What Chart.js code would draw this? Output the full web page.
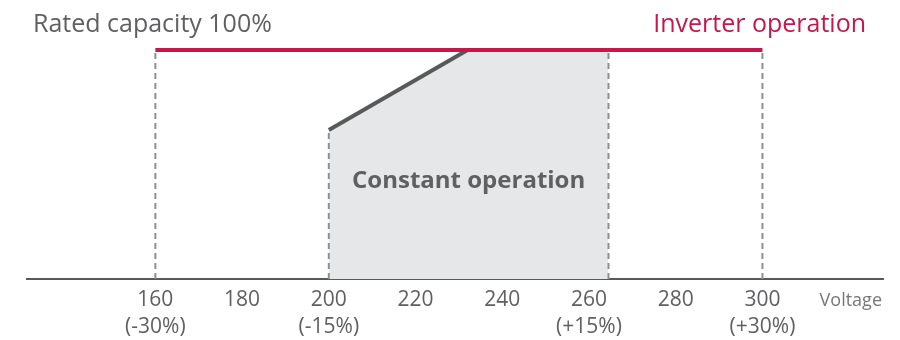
<!DOCTYPE html>
<html>
<head>
<meta charset="utf-8">
<script src="https://cdn.jsdelivr.net/npm/chart.js@4"></script>
<style>
  html, body { margin: 0; padding: 0; background: #fff; }
  #wrap { width: 900px; height: 340px; position: relative; }
</style>
</head>
<body>
<div id="wrap"><canvas id="chart"></canvas></div>
<script>
// Supply voltage ticks and their deviation from the 230 V rating
const voltageTicks = [160, 180, 200, 220, 240, 260, 280, 300];
const deviationLabels = ['(-30%)', '', '(-15%)', '', '', '(+15%)', '', '(+30%)'];

// Inverter model: full rated capacity over the whole 160-300 V range
const inverterVoltage = [160, 300];
const inverterCapacity = [100, 100];

// Constant-speed model: works only between -15% and +15%, reduced at low voltage
const constantVoltage = [200, 232, 264.5];
const constantCapacity = [65, 100, 100];

// Dashed boundary markers (voltage, capacity reached)
const boundaryVoltage = [160, 200, 264.5, 300];
const boundaryCapacity = [100, 65, 100, 100];

const RED = '#c8164b';
const DARK = '#58595b';
const GREY_TEXT = '#5f6062';

const pts = (xs, ys) => xs.map((x, i) => ({ x, y: ys[i] }));

const boundarySets = boundaryVoltage.map((v, i) => ({
  data: [{ x: v, y: 0 }, { x: v, y: boundaryCapacity[i] }],
  borderColor: '#8e8f92',
  borderWidth: 2,
  borderDash: [6, 4],
  pointRadius: 0,
  fill: false,
  order: 2
}));

const labelsPlugin = {
  id: 'labels',
  afterDatasetsDraw(chart) {
    const { ctx, scales: { x, y }, chartArea } = chart;
    ctx.save();
    ctx.font = 'bold 24px "Open Sans"';
    ctx.fillStyle = GREY_TEXT;
    ctx.textAlign = 'center';
    ctx.textBaseline = 'middle';
    const mid = (constantVoltage[0] + constantVoltage[constantVoltage.length - 1]) / 2;
    ctx.fillText('Constant operation', x.getPixelForValue(mid), y.getPixelForValue(42.5));

    ctx.font = '25px "Open Sans"';
    ctx.textBaseline = 'alphabetic';
    ctx.textAlign = 'left';
    ctx.fillStyle = GREY_TEXT;
    ctx.fillText('Rated capacity 100%', 33, 32);
    ctx.textAlign = 'right';
    ctx.fillStyle = RED;
    ctx.fillText('Inverter operation', 866, 32);

    ctx.font = '18px "Open Sans"';
    ctx.fillStyle = '#76777a';
    ctx.textAlign = 'right';
    ctx.textBaseline = 'middle';
    ctx.fillText('Voltage', 882, chartArea.bottom + 22);
    ctx.restore();
  }
};

new Chart(document.getElementById('chart'), {
  type: 'line',
  data: {
    datasets: [
      {
        data: pts(inverterVoltage, inverterCapacity),
        borderColor: RED,
        borderWidth: 4,
        pointRadius: 0,
        fill: false,
        order: 0
      },
      {
        // sloped limit of the constant-speed unit
        data: pts(constantVoltage.slice(0, 2), constantCapacity.slice(0, 2)),
        borderColor: DARK,
        borderWidth: 4,
        pointRadius: 0,
        fill: false,
        order: 1
      },
      {
        // operating area of the constant-speed unit
        data: pts(constantVoltage, constantCapacity),
        borderWidth: 0,
        borderColor: 'rgba(0,0,0,0)',
        backgroundColor: '#e6e7e9',
        fill: 'origin',
        pointRadius: 0,
        order: 3
      },
      ...boundarySets
    ]
  },
  options: {
    responsive: true,
    maintainAspectRatio: false,
    animation: false,
    layout: { padding: { left: 27, right: 17, top: 27, bottom: 0 } },
    plugins: { legend: { display: false }, tooltip: { enabled: false } },
    scales: {
      x: {
        type: 'linear',
        min: 130.4,
        max: 327.8,
        afterBuildTicks: s => { s.ticks = voltageTicks.map(v => ({ value: v })); },
        afterFit: s => { s.height = 61; },
        grid: { display: false, drawTicks: false },
        border: { display: true, color: DARK, width: 2 },
        ticks: {
          padding: 7,
          color: GREY_TEXT,
          font: { family: '"Open Sans"', size: 21, lineHeight: 1.29 },
          maxRotation: 0,
          autoSkip: false,
          callback: v => {
            const i = voltageTicks.indexOf(v);
            return deviationLabels[i] ? [String(v), deviationLabels[i]] : String(v);
          }
        }
      },
      y: {
        display: false,
        min: 0,
        max: 110
      }
    }
  },
  plugins: [labelsPlugin]
});
</script>
</body>
</html>
